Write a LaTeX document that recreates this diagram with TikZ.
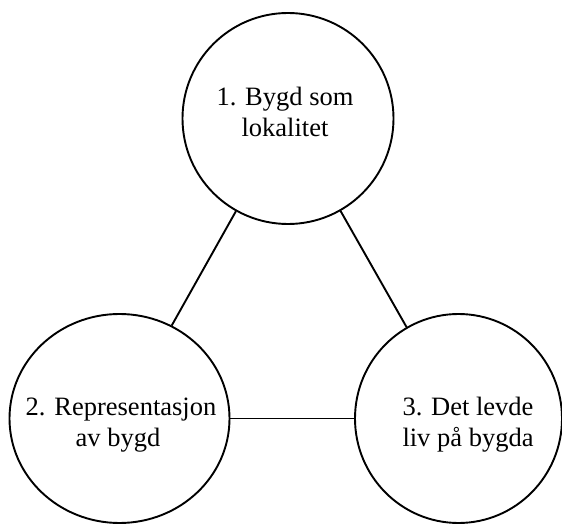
\documentclass[tikz,border=0pt]{standalone}
\usepackage{fontspec}
\setmainfont{Liberation Serif}
\usetikzlibrary{shapes.geometric}
\begin{document}
\begin{tikzpicture}[x=1pt,y=1pt,
  ring/.style={draw=black,line width=1.9pt,ellipse,inner sep=0pt,fill=white},
  conn/.style={draw=black,line width=1.9pt},
  lbl/.style={anchor=base,inner sep=0pt,font=\fontsize{26.5}{31}\selectfont}]
\useasboundingbox (0,0) rectangle (562,525);
\node[ring,minimum width=211pt,minimum height=211pt] (c1) at (288,406.5) {};
\node[ring,minimum width=220pt,minimum height=209pt] (c2) at (119.5,106.5) {};
\node[ring,minimum width=207pt,minimum height=209pt] (c3) at (458.5,106.5) {};
\draw[conn] (c1) -- (c2);
\draw[conn] (c1) -- (c3);
\draw[conn] (c2) -- (c3);
\node[lbl] (t1a) at (285,419) {1. Bygd som};
\node[lbl] (t1b) at (285,388) {lokalitet};
\node[lbl] (t2a) at (121,110) {2. Representasjon};
\node[lbl] (t2b) at (118,79) {av bygd};
\node[lbl] (t3a) at (468,110) {3. Det levde};
\node[lbl] (t3b) at (468,79) {liv på bygda};
\end{tikzpicture}
\end{document}
